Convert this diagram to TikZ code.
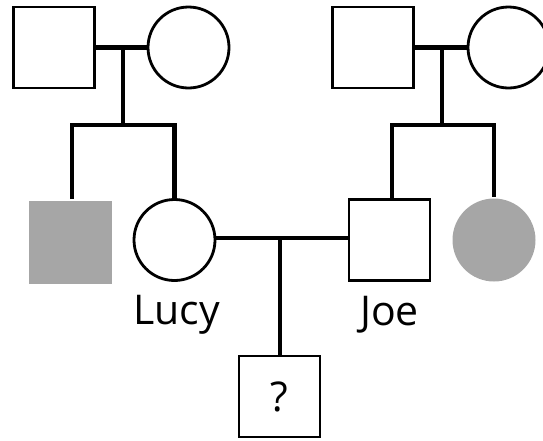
\documentclass[tikz,border=0pt]{standalone}
\usepackage{fontspec}
\setmainfont{Open Sans}
\usetikzlibrary{positioning,calc}
\definecolor{affgrey}{RGB}{166,166,166}

\begin{document}
\begin{tikzpicture}[
	x=1pt, y=-1pt,
	% Nam: hình vuông, nữ: hình tròn
	male/.style={
		rectangle, draw=black, line width=2.8pt,
		minimum size=81pt, inner sep=0pt, fill=white
	},
	female/.style={
		circle, draw=black, line width=2.8pt,
		minimum size=81pt, inner sep=0pt, fill=white
	},
	% Người mắc bệnh (tô xám)
	affected/.style={
		fill=affgrey, draw=none, minimum size=83pt
	},
	% Đường nối hôn nhân / anh chị em
	link/.style={draw=black, line width=4.2pt},
	namelabel/.style={font=\fontsize{41}{41}\selectfont, anchor=base, inner sep=0pt}
	]
	\useasboundingbox (0,0) rectangle (543,440);
	
	% Thế hệ I
	\node[male] (gf1) at (54,47.5) {};
	\node[female] (gm1) at (188.5,47.5) {};
	\node[male] (gf2) at (373,47.5) {};
	\node[female] (gm2) at (508.5,47.5) {};
	
	% Thế hệ II
	\node[male, affected] (uncle) at (70,242) {};
	\node[female] (lucy) at (174.5,240) {};
	\node[male] (joe) at (389.5,240) {};
	\node[female, affected] (aunt) at (494,240) {};
	
	% Thế hệ III
	\node[male, font=\fontsize{41}{41}\selectfont] (child) at (279.5,396.5) {?};
	
	% Tên
	\node[namelabel] (lucyname) at ([xshift=2pt, yshift=-43pt]lucy.south) {Lucy};
	\node[namelabel] (joename) at ([yshift=-44pt]joe.south) {Joe};
	
	% Gia đình bên trái
	\coordinate (sib1) at (123,125);
	\draw[link] (gf1.east) -- (gm1.west);
	\draw[link] (sib1 |- gf1) -- (sib1);
	\draw[link] (uncle.north -| 72,0) -- (72,125) -- (lucy.north |- sib1) -- (lucy.north);
	
	% Gia đình bên phải
	\coordinate (sib2) at (442,125);
	\draw[link] (gf2.east) -- (gm2.west);
	\draw[link] (sib2 |- gf2) -- (sib2);
	\draw[link] (joe.north -| 392,0) -- (392,125) -- (aunt.north |- sib2) -- (aunt.north);
	
	% Lucy và Joe
	\coordinate (kid) at (280,238);
	\draw[link] (lucy.east |- kid) -- (joe.west |- kid);
	\draw[link] (kid) -- (child.north -| kid);
	
\end{tikzpicture}
\end{document}
